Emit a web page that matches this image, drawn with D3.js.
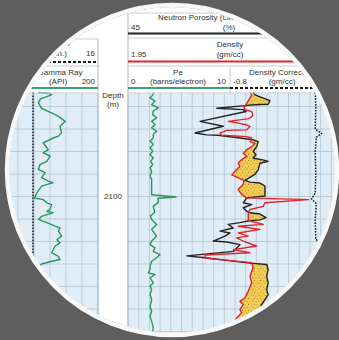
<!DOCTYPE html>
<html>
<head>
<meta charset="utf-8">
<script src="https://cdnjs.cloudflare.com/ajax/libs/d3/7.8.5/d3.min.js"></script>
<style>
  body { margin: 0; background: #5e5e5e; }
  text { font-family: "Liberation Sans", Arial, sans-serif; font-size: 8px; fill: #333; }
</style>
</head>
<body>
<div id="chart"></div>
<script>
// depth (m) / value pairs
var gammaDepth = [2076.9, 2077.1, 2077.4, 2078.3, 2079.2, 2080.4, 2081.4, 2082.2, 2083.3, 2084.4, 2085.8, 2086.6, 2087.0, 2088.1, 2089.6, 2090.3, 2091.0, 2092.2, 2092.9, 2094.0, 2094.7, 2095.8, 2096.6, 2096.9, 2097.7, 2099.2, 2100.1, 2100.3, 2100.7, 2101.4, 2101.8, 2102.9, 2103.3, 2103.6, 2104.4, 2105.1, 2105.8, 2106.6, 2107.0, 2107.7, 2108.8, 2109.6, 2110.3, 2111.0, 2112.5, 2113.3, 2114.0, 2114.5, 2115.0, 2115.8, 2117.0];
var gammaApi = [51, 80, 84, 56, 51, 59, 84, 101, 118, 105, 109, 101, 88, 63, 76, 63, 80, 72, 55, 51, 68, 59, 76, 88, 59, 47, 43, 38, 63, 72, 84, 80, 72, 88, 59, 51, 72, 93, 105, 101, 109, 97, 105, 93, 84, 101, 105, 80, 59, 50, 62];

var caliperDepth = [2076.9, 2100, 2132];
var caliperIn = [7.88, 7.88, 7.88];

var peDepth = [2076.9, 2077.3, 2078.1, 2078.8, 2079.6, 2080.3, 2081.0, 2081.8, 2082.5, 2083.3, 2084.0, 2084.7, 2085.5, 2086.2, 2087.0, 2087.7, 2088.4, 2089.2, 2089.9, 2090.7, 2091.4, 2092.2, 2092.9, 2093.6, 2094.4, 2095.5, 2096.2, 2097.7, 2099.6, 2100.1, 2100.4, 2101.3, 2102.2, 2103.5, 2104.3, 2105.1, 2106.2, 2107.3, 2108.8, 2109.9, 2110.7, 2111.4, 2112.2, 2112.9, 2113.6, 2114.4, 2115.5, 2116.2, 2117.0, 2117.3, 2118.1, 2119.2, 2119.9, 2120.7, 2121.8, 2122.9, 2124.4, 2125.5, 2126.6, 2127.7, 2129.2, 2130.7, 2132.0];
var pe = [2.36, 2.36, 2.06, 2.52, 2.21, 2.83, 2.36, 2.31, 2.68, 2.21, 2.52, 2.21, 2.68, 2.36, 2.36, 2.06, 2.36, 2.06, 2.31, 2.06, 2.36, 2.12, 2.31, 2.06, 2.21, 2.06, 2.21, 2.21, 2.21, 4.5, 2.8, 2.83, 2.36, 2.5, 2.1, 2.21, 2.68, 2.21, 2.68, 2.21, 2.06, 2.52, 2.36, 2.99, 2.68, 2.21, 2.06, 2.06, 1.9, 2.52, 2.06, 2.36, 2.06, 2.21, 2.06, 2.21, 2.06, 2.21, 2.06, 2.21, 2.36, 2.24, 2.1];

var nphiDepth = [2076.9, 2077.4, 2078.7, 2079.5, 2079.6, 2079.8, 2080.4, 2080.7, 2081.1, 2083.3, 2084.4, 2085.9, 2086.3, 2086.4, 2087.0, 2087.4, 2087.8, 2088.9, 2090.0, 2090.7, 2091.5, 2091.8, 2092.2, 2092.6, 2094.1, 2095.1, 2096.4, 2096.8, 2097.0, 2097.7, 2099.9, 2100.3, 2101.4, 2101.8, 2102.5, 2103.3, 2103.6, 2103.9, 2104.7, 2105.2, 2105.4, 2105.8, 2106.2, 2107.0, 2107.7, 2108.1, 2108.8, 2109.9, 2110.1, 2110.7, 2112.2, 2113.2, 2113.6, 2114.8, 2115.1, 2116.2, 2117.7, 2119.2, 2120.7, 2121.8, 2122.9, 2124.0, 2125.1, 2126.2, 2127.8, 2129.6, 2131.8];
var nphi = [9.9, 9.4, 5.2, 5.7, 9.4, 12.2, 20.1, 12.7, 11.9, 24.8, 18.3, 26.2, 22.9, 19.8, 13.6, 9.9, 8.5, 8.9, 9.9, 9.1, 9.9, 7.5, 5.7, 8.0, 8.5, 9.4, 12.2, 10.8, 8.0, 6.6, 6.6, 11.7, 12.7, 10.3, 12.7, 11.7, 10.8, 8.0, 6.3, 8.0, 11.1, 13.6, 16.9, 15.5, 19.2, 16.4, 17.8, 21.1, 17.3, 13.6, 15.5, 28.5, 23.4, 10.8, 6.1, 5.7, 6.1, 5.7, 6.1, 5.7, 6.6, 7.5, 8.0, 8.5, 8.8, 9.4, 9.4];

var rhobDepth = [2076.9, 2077.4, 2079.3, 2080.2, 2080.7, 2081.1, 2082.0, 2082.7, 2083.3, 2083.7, 2084.1, 2084.4, 2085.2, 2085.3, 2085.9, 2086.4, 2086.7, 2087.0, 2087.8, 2088.2, 2088.9, 2089.6, 2090.4, 2091.1, 2091.8, 2092.6, 2093.3, 2094.4, 2095.2, 2096.4, 2097.3, 2098.4, 2099.6, 2100.3, 2100.7, 2101.4, 2102.2, 2102.9, 2103.6, 2105.1, 2105.4, 2106.2, 2106.6, 2107.3, 2108.1, 2108.8, 2109.2, 2109.9, 2111.0, 2111.8, 2112.5, 2113.0, 2113.7, 2114.7, 2115.8, 2117.7, 2119.2, 2121.0, 2122.5, 2123.3, 2124.0, 2125.1, 2125.8, 2127.0, 2127.7, 2129.1, 2130.7, 2131.8];
var rhob = [2.520, 2.528, 2.505, 2.492, 2.497, 2.528, 2.534, 2.515, 2.419, 2.465, 2.505, 2.520, 2.505, 2.411, 2.380, 2.388, 2.505, 2.528, 2.520, 2.543, 2.528, 2.505, 2.489, 2.505, 2.481, 2.465, 2.473, 2.450, 2.435, 2.492, 2.489, 2.465, 2.481, 2.505, 2.793, 2.590, 2.582, 2.520, 2.512, 2.512, 2.515, 2.582, 2.465, 2.567, 2.465, 2.512, 2.458, 2.489, 2.551, 2.442, 2.520, 2.310, 2.310, 2.528, 2.535, 2.520, 2.528, 2.512, 2.497, 2.473, 2.489, 2.473, 2.481, 2.458, 2.450, 2.436, 2.427, 2.417];

var drhoDepth = [2076.9, 2080, 2085, 2086.0, 2086.8, 2090, 2095, 2099.3, 2100.5, 2101.6, 2105, 2109.5, 2110.5, 2111.5, 2115, 2125, 2132];
var drho = [-0.05, -0.045, -0.05, 0.01, -0.04, -0.05, -0.045, -0.05, -0.085, -0.04, -0.05, -0.045, 0.0, -0.04, -0.045, -0.05, -0.05];

var depthLabels = [2050, 2100, 2150];

var svgWidth = 339;
var svgHeight = 340;
var lens = { cx: 172, cy: 170, r: 163 };
var gridTop = 93;

var svg = d3.select("#chart")
  .append("svg")
  .attr("width", svgWidth)
  .attr("height", svgHeight)
  .style("display", "block");

svg.append("rect")
  .attr("width", svgWidth)
  .attr("height", svgHeight)
  .attr("fill", "#5e5e5e");

// scales
var depthScale = d3.scaleLinear().domain([2075, 2135]).range([84, 354]);
var gammaX = d3.scaleLinear().domain([0, 200]).range([18, 98]);
var caliperX = d3.scaleLinear().domain([6, 16]).range([18, 98]);
var peX = d3.scaleLinear().domain([0, 10]).range([128, 235]);
var nphiX = d3.scaleLinear().domain([45, -15]).range([128, 342]);
var rhobX = d3.scaleLinear().domain([1.95, 2.95]).range([128, 342]);
var drhoX = d3.scaleLinear().domain([-0.8, 0.2]).range([235, 342]);

function zip(a, b) {
  return a.map((d, i) => [d, b[i]]);
}

var defs = svg.append("defs");
defs.append("clipPath").attr("id", "lens")
  .append("circle")
  .attr("cx", lens.cx).attr("cy", lens.cy).attr("r", lens.r);

var sand = defs.append("pattern")
  .attr("id", "sand")
  .attr("width", 6).attr("height", 6)
  .attr("patternUnits", "userSpaceOnUse");
sand.append("rect").attr("width", 6).attr("height", 6).attr("fill", "#f5cd52");
[[1, 1, 0.5], [4, 2, 0.45], [2.5, 4.2, 0.5], [5.2, 5, 0.4]].forEach(function(p) {
  sand.append("circle").attr("cx", p[0]).attr("cy", p[1]).attr("r", p[2]).attr("fill", "#7a6425");
});

var log = svg.append("g").attr("clip-path", "url(#lens)");

log.append("rect")
  .attr("width", svgWidth)
  .attr("height", svgHeight)
  .attr("fill", "#ffffff");

// track backgrounds
log.append("rect")
  .attr("x", 0).attr("y", gridTop)
  .attr("width", 98).attr("height", svgHeight - gridTop)
  .attr("fill", "#e0edf7");
log.append("rect")
  .attr("x", 128).attr("y", gridTop)
  .attr("width", svgWidth - 128).attr("height", svgHeight - gridTop)
  .attr("fill", "#e0edf7");

// grid
var grid = log.append("g").attr("stroke", "#b3c4d2").attr("stroke-width", 0.8);
d3.range(-40, 201, 40).forEach(function(v) {
  grid.append("line")
    .attr("x1", gammaX(v)).attr("x2", gammaX(v))
    .attr("y1", gridTop).attr("y2", svgHeight);
});
d3.range(45, -16, -3).forEach(function(v) {
  grid.append("line")
    .attr("x1", nphiX(v)).attr("x2", nphiX(v))
    .attr("y1", gridTop).attr("y2", svgHeight);
});
d3.range(2080, 2135, 5).forEach(function(d) {
  grid.append("line")
    .attr("x1", 0).attr("x2", 98)
    .attr("y1", depthScale(d)).attr("y2", depthScale(d));
  grid.append("line")
    .attr("x1", 128).attr("x2", svgWidth)
    .attr("y1", depthScale(d)).attr("y2", depthScale(d));
});

// track borders
log.append("line").attr("x1", 98).attr("x2", 98).attr("y1", 39).attr("y2", svgHeight)
  .attr("stroke", "#a9b7c2").attr("stroke-width", 1);
log.append("line").attr("x1", 128).attr("x2", 128).attr("y1", 13).attr("y2", svgHeight)
  .attr("stroke", "#a9b7c2").attr("stroke-width", 1);

// crossover shading: right of density, left of neutron
var nphiPts = zip(nphiDepth, nphi);
var rhobPts = zip(rhobDepth, rhob);

var leftOfNphi = d3.area()
  .y(d => depthScale(d[0]))
  .x0(120)
  .x1(d => nphiX(d[1]));
var rightOfRhob = d3.area()
  .y(d => depthScale(d[0]))
  .x0(d => rhobX(d[1]))
  .x1(svgWidth + 10);

defs.append("clipPath").attr("id", "nphiLeft")
  .append("path").attr("d", leftOfNphi(nphiPts));

log.append("path")
  .attr("d", rightOfRhob(rhobPts))
  .attr("fill", "url(#sand)")
  .attr("clip-path", "url(#nphiLeft)");

// curves
function curve(xs, depths, values, color, width, dash) {
  var line = d3.line()
    .x(d => xs(d[1]))
    .y(d => depthScale(d[0]));
  var p = log.append("path")
    .attr("d", line(zip(depths, values)))
    .attr("fill", "none")
    .attr("stroke", color)
    .attr("stroke-width", width)
    .attr("stroke-linejoin", "round");
  if (dash) p.attr("stroke-dasharray", dash);
  return p;
}

curve(caliperX, caliperDepth, caliperIn, "#1a1a1a", 1.6, "1.6,1.4");
curve(gammaX, gammaDepth, gammaApi, "#25975f", 1.4);
curve(peX, peDepth, pe, "#25975f", 1.4);
curve(drhoX, drhoDepth, drho, "#1a1a1a", 1.5, "1.6,1.3");
curve(nphiX, nphiDepth, nphi, "#222222", 1.4);
curve(rhobX, rhobDepth, rhob, "#e3232c", 1.4);

// headers
var head = log.append("g").attr("fill", "none").attr("stroke", "#c9cfd4").attr("stroke-width", 1);
head.append("line").attr("x1", 0).attr("x2", 98).attr("y1", 39).attr("y2", 39);
head.append("line").attr("x1", 0).attr("x2", 98).attr("y1", 66).attr("y2", 66);
head.append("line").attr("x1", 128).attr("x2", svgWidth).attr("y1", 13).attr("y2", 13);
head.append("line").attr("x1", 128).attr("x2", svgWidth).attr("y1", 38).attr("y2", 38);
head.append("line").attr("x1", 128).attr("x2", svgWidth).attr("y1", 66).attr("y2", 66);
head.append("line").attr("x1", 230).attr("x2", 230).attr("y1", 66).attr("y2", gridTop);
head.append("line").attr("x1", 0).attr("x2", 98).attr("y1", gridTop).attr("y2", gridTop);
head.append("line").attr("x1", 128).attr("x2", svgWidth).attr("y1", gridTop).attr("y2", gridTop);

function scaleLine(x1, x2, y, color, dash) {
  var l = log.append("line")
    .attr("x1", x1).attr("x2", x2)
    .attr("y1", y).attr("y2", y)
    .attr("stroke", color)
    .attr("stroke-width", 1.8);
  if (dash) l.attr("stroke-dasharray", dash);
}
scaleLine(18, 98, 62, "#1a1a1a", "3,2");
scaleLine(0, 98, 88, "#3aa374");
scaleLine(128, 342, 33.5, "#222222");
scaleLine(128, 342, 61.5, "#e3232c");
scaleLine(128, 230, 88, "#3aa374");
scaleLine(230, 342, 88, "#1a1a1a", "3,2");

function label(x, y, txt, anchor) {
  log.append("text")
    .attr("x", x).attr("y", y)
    .attr("text-anchor", anchor || "middle")
    .text(txt);
}
label(58, 46, "Caliper");
label(21, 56, "6", "start");
label(60, 56, "(in.)");
label(95, 56, "16", "end");
label(60, 74.5, "Gamma Ray");
label(21, 84, "0", "start");
label(58, 84, "(API)");
label(95, 84, "200", "end");

label(158, 20, "Neutron Porosity (Limestone)", "start");
label(131, 30, "45", "start");
label(229, 30, "(%)");
label(338, 30, "-15", "end");
label(230, 47, "Density");
label(131, 57, "1.95", "start");
label(230, 57, "(gm/cc)");
label(338, 57, "2.95", "end");
label(178, 74.5, "Pe");
label(131, 84, "0", "start");
label(178, 84, "(barns/electron)");
label(226, 84, "10", "end");
label(282, 74.5, "Density Correction");
label(233, 84, "-0.8", "start");
label(282, 84, "(gm/cc)");
label(338, 84, "0.2", "end");

label(113, 97.5, "Depth");
label(113, 107, "(m)");
depthLabels.forEach(function(d) {
  var y = depthScale(d);
  if (y > gridTop && y < svgHeight) {
    log.append("text")
      .attr("x", 113).attr("y", y)
      .attr("dy", "0.35em")
      .attr("text-anchor", "middle")
      .text(d);
  }
});

// lens rim
svg.append("circle")
  .attr("cx", lens.cx).attr("cy", lens.cy)
  .attr("r", lens.r + 2)
  .attr("fill", "none")
  .attr("stroke", "#f8f8f8")
  .attr("stroke-width", 4.5);
</script>
</body>
</html>
